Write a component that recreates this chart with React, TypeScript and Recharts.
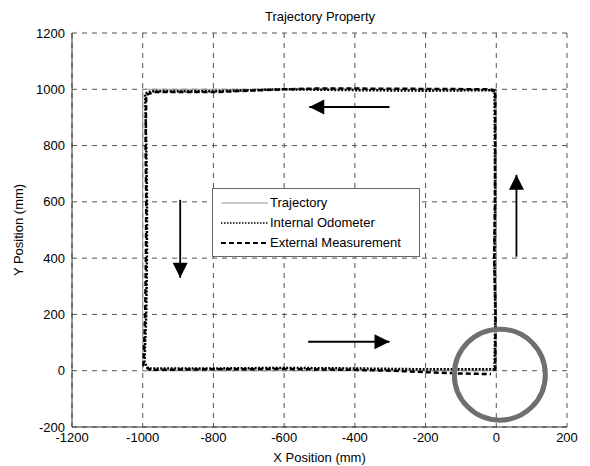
import React from 'react';
import { LineChart, Line, XAxis, YAxis, CartesianGrid, Legend, ReferenceDot } from 'recharts';

const title = 'Trajectory Property';
const xLabel = 'X Position (mm)';
const yLabel = 'Y Position (mm)';
const xTicks = [-1200, -1000, -800, -600, -400, -200, 0, 200];
const yTicks = [-200, 0, 200, 400, 600, 800, 1000, 1200];
const seriesNames = ['Trajectory', 'Internal Odometer', 'External Measurement'];

const trajectory = [
  { x: 0, y: 0 }, { x: 0, y: 1000 }, { x: -1000, y: 1000 }, { x: -1000, y: 0 }, { x: 0, y: 0 },
];

const odometer = [
  { x: -5, y: 0 }, { x: -3, y: 200 }, { x: -5, y: 400 }, { x: -3, y: 600 }, { x: -4, y: 800 },
  { x: -5, y: 990 }, { x: -15, y: 997 }, { x: -200, y: 995 }, { x: -400, y: 997 }, { x: -600, y: 1000 },
  { x: -800, y: 993 }, { x: -975, y: 993 }, { x: -993, y: 985 }, { x: -990, y: 800 }, { x: -988, y: 600 },
  { x: -988, y: 400 }, { x: -990, y: 200 }, { x: -995, y: 30 }, { x: -985, y: 8 }, { x: -800, y: 8 },
  { x: -600, y: 10 }, { x: -400, y: 8 }, { x: -200, y: 5 }, { x: -5, y: 5 },
];

const external = [
  { x: -3, y: 0 }, { x: -2, y: 200 }, { x: -6, y: 400 }, { x: -4, y: 600 }, { x: -3, y: 800 },
  { x: -3, y: 995 }, { x: -20, y: 1000 }, { x: -300, y: 1002 }, { x: -500, y: 1003 }, { x: -600, y: 1000 },
  { x: -800, y: 990 }, { x: -970, y: 990 }, { x: -990, y: 980 }, { x: -992, y: 800 }, { x: -990, y: 600 },
  { x: -991, y: 400 }, { x: -993, y: 200 }, { x: -998, y: 20 }, { x: -980, y: 3 }, { x: -800, y: 5 },
  { x: -600, y: 6 }, { x: -400, y: 3 }, { x: -300, y: 0 }, { x: -200, y: -5 }, { x: -100, y: -10 },
  { x: -15, y: -12 },
];

const arrowTop = [{ x: -302, y: 937, dir: 'left' }, { x: -529, y: 937, dir: 'left' }];
const arrowRight = [{ x: 57, y: 405, dir: 'up' }, { x: 57, y: 696, dir: 'up' }];
const arrowLeft = [{ x: -894, y: 607, dir: 'down' }, { x: -894, y: 330, dir: 'down' }];
const arrowBottom = [{ x: -532, y: 103, dir: 'right' }, { x: -302, y: 103, dir: 'right' }];
const arrows = [arrowTop, arrowRight, arrowLeft, arrowBottom];

const circleCenter = { x: 10, y: -14 };

const FONT = 'Liberation Sans, Arial, Helvetica, sans-serif';

const ArrowHead = (props: any) => {
  const { cx, cy, index, payload } = props;
  if (index !== 1 || cx == null || cy == null) return <g key={`ah-${index}`} />;
  const L = 15;
  const W = 7.5;
  let pts = '';
  if (payload.dir === 'left') pts = `${cx},${cy} ${cx + L},${cy - W} ${cx + L},${cy + W}`;
  if (payload.dir === 'right') pts = `${cx},${cy} ${cx - L},${cy - W} ${cx - L},${cy + W}`;
  if (payload.dir === 'up') pts = `${cx},${cy} ${cx - W},${cy + L} ${cx + W},${cy + L}`;
  if (payload.dir === 'down') pts = `${cx},${cy} ${cx - W},${cy - L} ${cx + W},${cy - L}`;
  return <polygon key={`ah-${index}`} points={pts} fill="#000" stroke="none" />;
};

const LegendBox = () => {
  const styles = [
    { stroke: '#999', width: 1, dash: undefined },
    { stroke: '#000', width: 1.5, dash: '1.5 1.5' },
    { stroke: '#000', width: 2, dash: '5 3' },
  ];
  return (
    <div
      style={{
        width: 208,
        height: 69,
        border: '1px solid #666',
        background: '#fff',
        boxSizing: 'border-box',
        paddingTop: 4,
        fontFamily: FONT,
        fontSize: 13,
        color: '#000',
      }}
    >
      {seriesNames.map((n, i) => (
        <div key={n} style={{ display: 'flex', alignItems: 'center', height: 20, lineHeight: '20px' }}>
          <svg width={57} height={20} style={{ display: 'block' }}>
            <line x1={8} x2={55} y1={10} y2={10} stroke={styles[i].stroke} strokeWidth={styles[i].width} strokeDasharray={styles[i].dash} />
          </svg>
          <span>{n}</span>
        </div>
      ))}
    </div>
  );
};

export default function App() {
  return (
    <div style={{ position: 'absolute', left: 0, top: 0, background: '#fff' }}>
      <LineChart width={590} height={466} margin={{ top: 33, right: 23, left: 0, bottom: 0 }}>
        <text x={320} y={21} textAnchor="middle" fontFamily={FONT} fontSize={13} fill="#000">{title}</text>
        <CartesianGrid stroke="#555" strokeDasharray="5 5" strokeWidth={1} />
        <XAxis
          dataKey="x"
          type="number"
          domain={[-1200, 200]}
          ticks={xTicks}
          allowDuplicatedCategory={false}
          height={39}
          tickLine={false}
          tickSize={4}
          tickMargin={2}
          axisLine={{ stroke: '#333' }}
          tick={{ fill: '#000', fontSize: 13, fontFamily: FONT }}
          label={{ value: xLabel, position: 'insideBottom', offset: 4, fill: '#000', fontSize: 13, fontFamily: FONT }}
        />
        <YAxis
          dataKey="y"
          type="number"
          domain={[-200, 1200]}
          ticks={yTicks}
          width={72}
          tickLine={false}
          tickSize={4}
          tickMargin={3}
          axisLine={{ stroke: '#333' }}
          tick={{ fill: '#000', fontSize: 13, fontFamily: FONT }}
          label={{ value: yLabel, angle: -90, position: 'insideLeft', offset: 18, fill: '#000', fontSize: 13, fontFamily: FONT, style: { textAnchor: 'middle' } }}
        />
        <Line data={trajectory} dataKey="y" stroke="#999" strokeWidth={1} dot={false} isAnimationActive={false} />
        <Line data={odometer} dataKey="y" stroke="#000" strokeWidth={2.5} strokeDasharray="2 1.5" dot={false} isAnimationActive={false} />
        <Line data={external} dataKey="y" stroke="#000" strokeWidth={2.5} strokeDasharray="5 3" dot={false} isAnimationActive={false} />
        {arrows.map((a, i) => (
          <Line key={`arrow-${i}`} data={a} dataKey="y" stroke="#000" strokeWidth={1.8} dot={ArrowHead} activeDot={false} isAnimationActive={false} legendType="none" />
        ))}
        <ReferenceDot x={circleCenter.x} y={circleCenter.y} r={45.5} fill="none" stroke="#6f6f6f" strokeWidth={5} />
        <Legend
          layout="horizontal"
          verticalAlign="middle"
          align="center"
          content={LegendBox}
          wrapperStyle={{ position: 'absolute', left: 212, top: 188, width: 210, height: 71 }}
        />
      </LineChart>
    </div>
  );
}
